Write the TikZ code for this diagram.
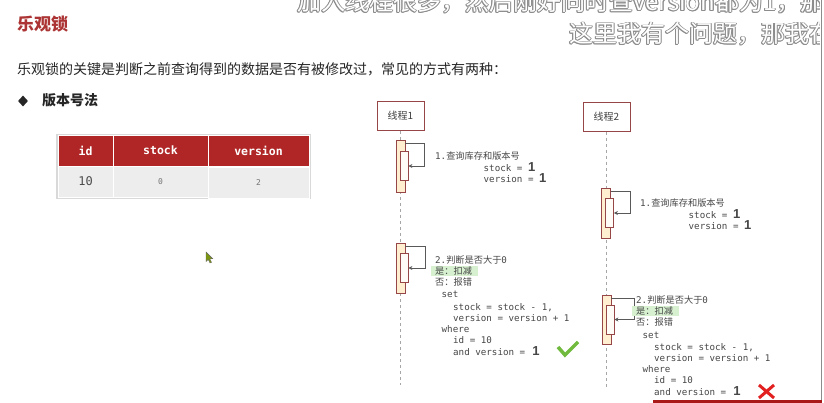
\documentclass[tikz,border=0pt]{standalone}
\usepackage{fontspec}
\usepackage{xcolor}
\usepackage{tikz}
\usetikzlibrary{arrows.meta,shapes.geometric}
\newfontfamily\cjk{Noto Sans CJK SC}
\newfontfamily\mono{DejaVu Sans Mono}
\newfontfamily\bsans{Liberation Sans}
\definecolor{ttl}{RGB}{172,52,52}
\definecolor{hdr}{RGB}{176,38,38}
\definecolor{brd}{RGB}{150,70,70}
\definecolor{actf}{RGB}{255,238,208}
\definecolor{hlg}{RGB}{214,240,208}
\definecolor{okg}{RGB}{112,186,62}
\definecolor{nor}{RGB}{226,32,32}
\definecolor{barr}{RGB}{170,25,25}
\tikzset{
  txt/.style={anchor=base west,inner sep=0pt,text=black!72,font=\fontsize{9.2}{11}\selectfont},
  life/.style={draw=brd,line width=1pt,fill=white,minimum width=47pt,minimum height=29pt,inner sep=0pt,font=\cjk\fontsize{10}{10}\selectfont,text=black!75},
  ll/.style={draw=black!35,line width=0.8pt,dash pattern=on 3pt off 3pt},
  obar/.style={draw=brd,line width=0.8pt,fill=actf,minimum width=9pt,inner sep=0pt},
  ibar/.style={draw=brd,line width=0.8pt,fill=white!85!actf,minimum width=8pt,minimum height=29pt,inner sep=0pt},
  self/.style={draw=black!65,line width=0.8pt,-{Stealth[length=4pt,width=4pt]}},
  hdc/.style={draw=white,line width=0.8pt,fill=hdr,minimum height=31pt,inner sep=0pt,text=white,font=\mono\bfseries\fontsize{11.5}{12}\selectfont},
  rwc/.style={draw=white,line width=0.8pt,fill=black!7,minimum height=31pt,inner sep=0pt,text=black!70},
  sub/.style={anchor=base west,inner sep=0pt,font=\cjk\fontsize{24}{24}\selectfont}
}
\newcommand{\bigone}{{\bsans\bfseries\fontsize{13}{13}\selectfont 1}}
\newcommand{\act}[5]{%
  \node[obar,minimum height=#4pt] (#1o) at (#2,#3) {};
  \node[ibar] (#1i) at (#2+3.5,#3) {};
  \draw[self] ([yshift=-4pt]#1o.north east) -- ++(#5,0) |- (#1i.east);}
\newcommand{\qry}[3]{%
  \node[txt] (#1a) at (#2,#3) {{\mono 1.}{\cjk 查询库存和版本号}};
  \node[txt] (#1b) at (#2+48.5,#3+12) {\mono stock = \bigone};
  \node[txt] (#1c) at (#2+48.5,#3+23) {\mono version = \bigone};}
\newcommand{\upd}[3]{%
  \fill[hlg] (#2-4,#3+3) rectangle (#2+43,#3+13);
  \node[txt] (#1a) at (#2,#3) {{\mono 2.}{\cjk 判断是否大于}{\mono 0}};
  \node[txt] (#1b) at (#2,#3+11) {\cjk 是：扣减};
  \node[txt] (#1c) at (#2,#3+22.5) {\cjk 否：报错};
  \node[txt] (#1d) at (#2+6.5,#3+35) {\mono set};
  \node[txt] (#1e) at (#2+18,#3+47) {\mono stock = stock - 1,};
  \node[txt] (#1f) at (#2+18,#3+58) {\mono version = version + 1};
  \node[txt] (#1g) at (#2+6.5,#3+69) {\mono where};
  \node[txt] (#1h) at (#2+18,#3+80) {\mono id = 10};
  \node[txt] (#1i) at (#2+18,#3+92) {\mono and version = \,\bigone};}
\newcommand{\subt}[3]{%
  \foreach \dx/\dy in {0.9/0,-0.9/0,0/0.9,0/-0.9,0.65/0.65,-0.65/0.65,0.65/-0.65,-0.65/-0.65}
    \node[sub,text=black!45] at ([shift={(\dx pt,\dy pt)}]#2) {#3};
  \node[sub,text=white] (#1) at (#2) {#3};}

\begin{document}
\begin{tikzpicture}[x=1pt,y=-1pt]
\useasboundingbox (0,0) rectangle (824,403);
\fill[white] (0,0) rectangle (824,403);
\node[anchor=west,inner sep=0pt,text=ttl,font=\cjk\bfseries\fontsize{17}{17}\selectfont] (title) at (17,24) {乐观锁};
\node[anchor=west,inner sep=0pt,text=black!85,font=\cjk\fontsize{14}{14}\selectfont] (intro) at (17,69) {乐观锁的关键是判断之前查询得到的数据是否有被修改过，常见的方式有两种：};
\node[diamond,fill=black!85,inner sep=0pt,minimum width=10pt,minimum height=11pt] (bul) at (23,101) {};
\node[anchor=west,inner sep=0pt,text=black!85,font=\cjk\bfseries\fontsize{14}{14}\selectfont] (ver) at (42,100) {版本号法};
\fill[black!15] (56,134) rectangle (310.5,199.5);
\node[hdc,minimum width=55pt] (hid) at (85.5,150.5) {id};
\node[hdc,minimum width=95pt] (hst) at (160.5,150.5) {stock};
\node[hdc,minimum width=101pt] (hvr) at (258.5,150.5) {version};
\node[rwc,minimum width=55pt,font=\mono\fontsize{12}{12}\selectfont] (rid) at (85.5,181.5) {10};
\node[rwc,minimum width=95pt,font=\mono\fontsize{8}{8}\selectfont,text=black!55] (rst) at (160.5,181.5) {0};
\node[rwc,minimum width=101pt,font=\mono\fontsize{8}{8}\selectfont,text=black!55] (rvr) at (258.5,182.5) {2};
\filldraw[fill=olive!70!green,draw=black!60,line width=0.4pt] (206,252) -- (206,261.5) -- (208.3,259.5) -- (210,263) -- (211.5,262.3) -- (209.8,258.8) -- (212.8,258.8) -- cycle;
\node[life] (t1) at (400.5,116) {线程1};
\node[life] (t2) at (606.5,117) {线程2};
\coordinate (e1) at (400.5,385); \coordinate (e2) at (606.5,388);
\draw[ll] (t1) -- (e1); \draw[ll] (t2) -- (e2);
\act{a}{400.5}{166}{52}{19}
\act{b}{400.5}{268}{50}{20}
\act{c}{606}{213}{50}{19}
\act{d}{606.5}{319.5}{49}{23}
\qry{q1}{435}{160}
\qry{q2}{640}{207}
\upd{u1}{435}{263}
\upd{u2}{636}{303}
\draw[okg,line width=3.5pt] (558,347) -- (565,355) -- (578,342);
\draw[nor,line width=3pt] (759,385) -- (774,398) (759,398) -- (774,385);
\begin{scope}
\clip (0,-30) rectangle (819,60);
\subt{s1}{297,11}{加入线程很多，然后刚好同时查version都为1，那}
\subt{s2}{569,43}{这里我有个问题，那我在}
\end{scope}
\draw[black!45,line width=1pt] (821,0) -- (821,400);
\draw[barr,line width=2.5pt] (653,401.5) -- (822,401.5);
\end{tikzpicture}
\end{document}
